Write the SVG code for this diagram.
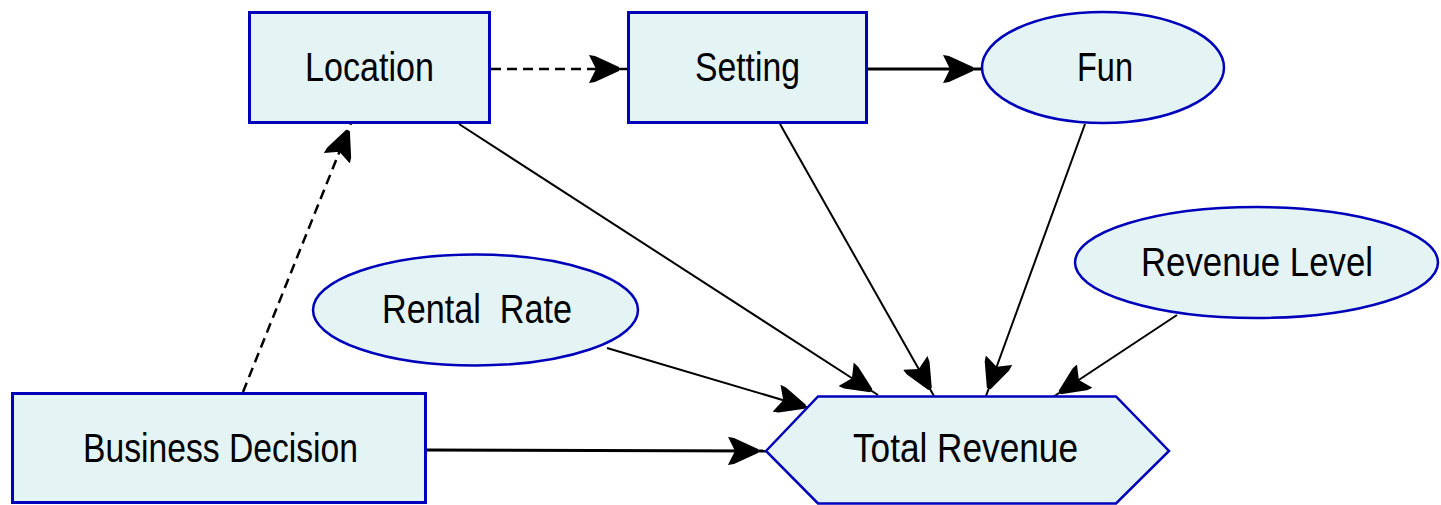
<svg xmlns="http://www.w3.org/2000/svg" width="1441" height="505" viewBox="0 0 1441 505">
  <style>
    .node { fill: #E4F4F4; stroke: #0000BB; }
    .box { stroke-width: 3; }
    .oval { stroke-width: 2.5; }
    .hex { stroke-width: 2.5; }
    .label { font-family: "Liberation Sans", Arial, sans-serif; font-size: 40px; fill: #000; text-anchor: middle; }
    .link { fill: none; stroke: #000; stroke-width: 2; }
    .thick { stroke-width: 3; }
    .dashed { stroke-dasharray: 10 6; stroke-width: 2.5; }
  </style>
  <defs>
    <!-- blunt notched head; the shaft runs on past the tip to the node edge -->
    <marker id="arrow" markerUnits="userSpaceOnUse" markerWidth="38" markerHeight="28" refX="38" refY="14" orient="auto" viewBox="0 0 38 28">
      <path d="M0,0 L6,1 L30,12 L30,16 L6,27 L0,28 L7,14 Z" fill="#000"/>
    </marker>
  </defs>
  <rect width="1441" height="505" fill="#fff"/>

  <!-- influence arcs -->
  <g id="connectors">
    <line class="link dashed" x1="491" y1="69" x2="627" y2="69" marker-end="url(#arrow)"/>
    <line class="link thick" x1="868" y1="69" x2="981" y2="69" marker-end="url(#arrow)"/>
    <line class="link" x1="459" y1="124" x2="878" y2="395" marker-end="url(#arrow)"/>
    <line class="link" x1="780" y1="124" x2="934" y2="396" marker-end="url(#arrow)"/>
    <line class="link" x1="1085" y1="124" x2="986" y2="396" marker-end="url(#arrow)"/>
    <line class="link" x1="1177" y1="315" x2="1053" y2="397" marker-end="url(#arrow)"/>
    <line class="link" x1="607" y1="348" x2="813" y2="409" marker-end="url(#arrow)"/>
    <line class="link thick" x1="427" y1="450" x2="766" y2="451" marker-end="url(#arrow)"/>
    <line class="link dashed" x1="243" y1="392" x2="351" y2="123" marker-end="url(#arrow)"/>
  </g>

  <g id="location">
    <rect class="node box" x="249.5" y="12.5" width="240" height="110"/>
    <text class="label" x="369.5" y="81" textLength="129" lengthAdjust="spacingAndGlyphs">Location</text>
  </g>
  <g id="setting">
    <rect class="node box" x="628.5" y="12.5" width="238" height="110"/>
    <text class="label" x="747.5" y="81" textLength="105" lengthAdjust="spacingAndGlyphs">Setting</text>
  </g>
  <g id="fun">
    <ellipse class="node oval" cx="1103" cy="67.5" rx="121" ry="55.5"/>
    <text class="label" x="1105" y="81" textLength="56" lengthAdjust="spacingAndGlyphs">Fun</text>
  </g>
  <g id="revenue-level">
    <ellipse class="node oval" cx="1256.5" cy="262.5" rx="181.5" ry="55.5"/>
    <text class="label" x="1257" y="276" textLength="232" lengthAdjust="spacingAndGlyphs">Revenue Level</text>
  </g>
  <g id="rental-rate">
    <ellipse class="node oval" cx="475.5" cy="310" rx="162.5" ry="55.5"/>
    <text class="label" x="477" y="323" textLength="190" lengthAdjust="spacingAndGlyphs" xml:space="preserve">Rental  Rate</text>
  </g>
  <g id="business-decision">
    <rect class="node box" x="12.5" y="393.5" width="413" height="109"/>
    <text class="label" x="220.5" y="462" textLength="275" lengthAdjust="spacingAndGlyphs">Business Decision</text>
  </g>
  <g id="total-revenue">
    <polygon class="node hex" points="766,451 818,396.5 1116,396.5 1169,451 1116,503.5 818,503.5"/>
    <text class="label" x="965.5" y="462" textLength="225" lengthAdjust="spacingAndGlyphs">Total Revenue</text>
  </g>
</svg>
